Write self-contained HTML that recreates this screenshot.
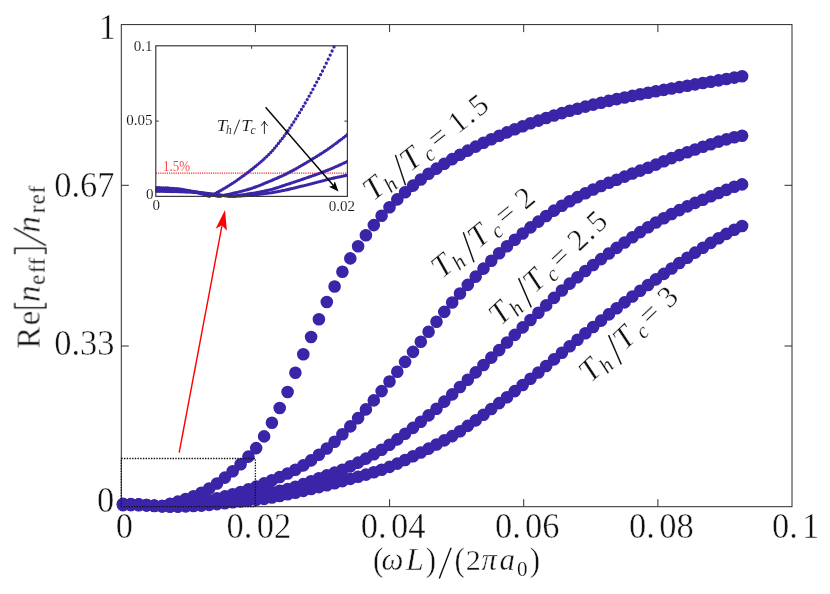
<!DOCTYPE html><html><head><meta charset="utf-8"><title>chart</title><style>
html,body{margin:0;padding:0;background:#fff;}svg{display:block;}text{font-family:"Liberation Serif",serif;fill:#111;stroke:#fff;paint-order:fill stroke;}
.i{font-style:italic}
</style></head><body>
<svg width="830" height="594" viewBox="0 0 830 594">
<rect width="830" height="594" fill="#fff"/>
<defs><filter id="nf" x="0" y="0" width="830" height="594" filterUnits="userSpaceOnUse"><feOffset dx="0" dy="0"/></filter></defs>
<g filter="url(#nf)">
<rect x="121.3" y="24.6" width="670.7" height="482.1" fill="none" stroke="#2b2b2b" stroke-width="1"/>
<path d="M255.4 506.7v-7.5M255.4 24.6v7.5M389.6 506.7v-7.5M389.6 24.6v7.5M523.7 506.7v-7.5M523.7 24.6v7.5M657.9 506.7v-7.5M657.9 24.6v7.5M121.3 346.0h7.5M792.0 346.0h-7.5M121.3 185.3h7.5M792.0 185.3h-7.5" stroke="#2b2b2b" stroke-width="1" fill="none"/>
<path d="M123.0 503.9h0M130.8 504.1h0M138.7 504.4h0M146.5 505.1h0M154.3 506.0h0M162.2 506.0h0M170.0 503.9h0M177.9 501.6h0M185.7 499.0h0M193.5 496.2h0M201.4 492.8h0M209.2 488.5h0M217.0 483.5h0M224.9 477.6h0M232.7 471.2h0M240.6 464.2h0M248.4 456.6h0M256.2 448.1h0M264.1 436.4h0M271.9 422.7h0M279.7 408.0h0M287.6 392.0h0M295.4 372.8h0M303.3 354.3h0M311.1 337.0h0M318.9 319.3h0M326.8 302.0h0M334.6 286.5h0M342.4 271.8h0M350.3 258.4h0M358.1 246.2h0M365.9 235.2h0M373.8 225.1h0M381.6 215.8h0M389.5 207.3h0M397.3 199.4h0M405.1 192.2h0M413.0 185.6h0M420.8 179.5h0M428.6 173.8h0M436.5 168.6h0M444.3 163.7h0M452.2 159.1h0M460.0 154.7h0M467.8 150.6h0M475.7 146.6h0M483.5 142.8h0M491.3 139.2h0M499.2 135.7h0M507.0 132.4h0M514.8 129.2h0M522.7 126.2h0M530.5 123.3h0M538.4 120.6h0M546.2 118.0h0M554.0 115.5h0M561.9 113.1h0M569.7 110.8h0M577.5 108.7h0M585.4 106.6h0M593.2 104.6h0M601.1 102.7h0M608.9 100.9h0M616.7 99.1h0M624.6 97.5h0M632.4 95.9h0M640.2 94.3h0M648.1 92.8h0M655.9 91.3h0M663.8 89.9h0M671.6 88.5h0M679.4 87.1h0M687.3 85.7h0M695.1 84.4h0M702.9 83.0h0M710.8 81.7h0M718.6 80.4h0M726.4 79.0h0M734.3 77.6h0M742.1 76.2h0" stroke="#3b24a8" stroke-width="12.6" stroke-linecap="round" fill="none"/>
<path d="M123.0 504.3h0M130.8 504.4h0M138.7 504.6h0M146.5 505.1h0M154.3 505.7h0M162.2 506.4h0M170.0 506.3h0M177.9 505.4h0M185.7 504.5h0M193.5 503.3h0M201.4 501.8h0M209.2 500.2h0M217.0 498.4h0M224.9 496.4h0M232.7 494.2h0M240.6 492.0h0M248.4 489.4h0M256.2 486.6h0M264.1 483.4h0M271.9 480.3h0M279.7 477.0h0M287.6 473.5h0M295.4 469.7h0M303.3 465.4h0M311.1 460.4h0M318.9 454.8h0M326.8 448.5h0M334.6 441.7h0M342.4 434.3h0M350.3 426.4h0M358.1 418.1h0M365.9 409.4h0M373.8 400.4h0M381.6 391.1h0M389.5 381.5h0M397.3 371.8h0M405.1 361.9h0M413.0 351.9h0M420.8 341.8h0M428.6 331.7h0M436.5 321.7h0M444.3 311.9h0M452.2 302.5h0M460.0 293.5h0M467.8 284.9h0M475.7 276.6h0M483.5 268.6h0M491.3 260.7h0M499.2 253.3h0M507.0 246.3h0M514.8 239.8h0M522.7 233.5h0M530.5 227.4h0M538.4 221.6h0M546.2 216.0h0M554.0 210.6h0M561.9 205.7h0M569.7 201.3h0M577.5 197.1h0M585.4 193.2h0M593.2 189.5h0M601.1 186.0h0M608.9 182.7h0M616.7 179.7h0M624.6 176.6h0M632.4 173.5h0M640.2 170.6h0M648.1 167.7h0M655.9 164.6h0M663.8 161.3h0M671.6 158.1h0M679.4 155.1h0M687.3 152.2h0M695.1 149.5h0M702.9 146.8h0M710.8 144.2h0M718.6 141.6h0M726.4 139.4h0M734.3 137.3h0M742.1 135.8h0" stroke="#3b24a8" stroke-width="12.6" stroke-linecap="round" fill="none"/>
<path d="M123.0 504.7h0M130.8 504.8h0M138.7 504.9h0M146.5 505.1h0M154.3 505.6h0M162.2 506.0h0M170.0 506.5h0M177.9 506.4h0M185.7 505.9h0M193.5 505.3h0M201.4 504.6h0M209.2 503.5h0M217.0 502.3h0M224.9 501.1h0M232.7 499.8h0M240.6 498.5h0M248.4 497.0h0M256.2 495.3h0M264.1 493.4h0M271.9 492.1h0M279.7 490.8h0M287.6 489.1h0M295.4 486.8h0M303.3 484.1h0M311.1 481.2h0M318.9 478.3h0M326.8 475.4h0M334.6 472.6h0M342.4 469.7h0M350.3 466.3h0M358.1 462.6h0M365.9 458.6h0M373.8 454.3h0M381.6 449.7h0M389.5 444.7h0M397.3 439.4h0M405.1 433.8h0M413.0 427.9h0M420.8 421.7h0M428.6 415.4h0M436.5 408.7h0M444.3 401.6h0M452.2 394.4h0M460.0 387.0h0M467.8 379.7h0M475.7 372.4h0M483.5 365.0h0M491.3 357.6h0M499.2 350.1h0M507.0 342.5h0M514.8 334.9h0M522.7 327.4h0M530.5 320.0h0M538.4 312.7h0M546.2 305.4h0M554.0 297.9h0M561.9 290.5h0M569.7 283.6h0M577.5 277.2h0M585.4 271.0h0M593.2 265.0h0M601.1 259.1h0M608.9 253.5h0M616.7 247.9h0M624.6 242.5h0M632.4 237.3h0M640.2 232.1h0M648.1 227.2h0M655.9 222.5h0M663.8 218.2h0M671.6 214.0h0M679.4 210.1h0M687.3 206.4h0M695.1 202.9h0M702.9 199.7h0M710.8 196.3h0M718.6 193.0h0M726.4 189.9h0M734.3 186.8h0M742.1 184.4h0" stroke="#3b24a8" stroke-width="12.6" stroke-linecap="round" fill="none"/>
<path d="M123.0 505.1h0M130.8 505.1h0M138.7 505.2h0M146.5 505.4h0M154.3 505.7h0M162.2 506.1h0M170.0 506.4h0M177.9 506.6h0M185.7 506.4h0M193.5 506.0h0M201.4 505.6h0M209.2 504.9h0M217.0 504.1h0M224.9 503.3h0M232.7 502.3h0M240.6 501.4h0M248.4 500.6h0M256.2 499.8h0M264.1 498.9h0M271.9 497.5h0M279.7 496.0h0M287.6 494.3h0M295.4 492.7h0M303.3 490.9h0M311.1 489.0h0M318.9 487.1h0M326.8 485.2h0M334.6 483.2h0M342.4 481.1h0M350.3 478.9h0M358.1 476.7h0M365.9 474.6h0M373.8 472.3h0M381.6 469.8h0M389.5 466.9h0M397.3 463.6h0M405.1 460.0h0M413.0 456.3h0M420.8 452.5h0M428.6 448.6h0M436.5 444.5h0M444.3 440.4h0M452.2 436.1h0M460.0 431.3h0M467.8 425.9h0M475.7 420.4h0M483.5 414.8h0M491.3 409.0h0M499.2 403.1h0M507.0 397.2h0M514.8 391.1h0M522.7 385.0h0M530.5 378.8h0M538.4 372.5h0M546.2 366.0h0M554.0 359.4h0M561.9 352.8h0M569.7 346.2h0M577.5 339.7h0M585.4 333.3h0M593.2 327.0h0M601.1 320.6h0M608.9 314.4h0M616.7 308.3h0M624.6 302.4h0M632.4 296.5h0M640.2 290.7h0M648.1 285.0h0M655.9 279.4h0M663.8 273.9h0M671.6 268.5h0M679.4 263.0h0M687.3 257.7h0M695.1 252.6h0M702.9 247.7h0M710.8 242.9h0M718.6 238.3h0M726.4 233.9h0M734.3 229.8h0M742.1 226.0h0" stroke="#3b24a8" stroke-width="12.6" stroke-linecap="round" fill="none"/>
<rect x="121.3" y="458.5" width="134.1" height="48.2" fill="none" stroke="#111" stroke-width="1.3" stroke-dasharray="1.4 1.3"/>
<path d="M179.2 452.5L222.0 225.5" stroke="#f00" stroke-width="1.4" fill="none"/>
<path d="M225 210.1L215.6 228.7L221.9 225.3L226.9 230.7Z" fill="#f00"/>
<text transform="translate(116.0 38.9) scale(1 1.05)" font-size="34.5" stroke-width="0.43" text-anchor="end">1</text>
<text transform="translate(114.6 196.8) scale(1 1.05)" font-size="34.5" stroke-width="0.43" text-anchor="end">0.67</text>
<text transform="translate(114.6 354.9) scale(1 1.05)" font-size="34.5" stroke-width="0.43" text-anchor="end">0.33</text>
<text transform="translate(114.2 511.8) scale(1 1.05)" font-size="34.5" stroke-width="0.43" text-anchor="end">0</text>
<text transform="translate(115.8 538.3) scale(1 1.05)" font-size="34.5" stroke-width="0.43">0</text>
<text transform="translate(226.6 538.3) scale(1 1.05)" font-size="34.5" stroke-width="0.43">0.<tspan dx="4.3">02</tspan></text>
<text transform="translate(360.8 538.3) scale(1 1.05)" font-size="34.5" stroke-width="0.43">0.<tspan dx="4.3">04</tspan></text>
<text transform="translate(494.9 538.3) scale(1 1.05)" font-size="34.5" stroke-width="0.43">0.<tspan dx="4.3">06</tspan></text>
<text transform="translate(629.1 538.3) scale(1 1.05)" font-size="34.5" stroke-width="0.43">0.<tspan dx="4.3">08</tspan></text>
<text transform="translate(771.9 538.3) scale(1 1.05)" font-size="34.5" stroke-width="0.43">0.<tspan dx="4.3">1</tspan></text>
<text transform="translate(378.2 571.2) scale(1 1.08)" font-size="31" stroke-width="0.39" text-anchor="middle">(</text>
<text x="392.4" y="570.2" font-size="31" stroke-width="0.39" text-anchor="middle" class="i">ω</text>
<text x="414.9" y="570.2" font-size="32" stroke-width="0.40" text-anchor="middle" class="i">L</text>
<text transform="translate(431.0 571.2) scale(1 1.08)" font-size="31" stroke-width="0.39" text-anchor="middle">)</text>
<path d="M439.3 578.5L451.1 547.8" stroke="#111" stroke-width="1.4" fill="none"/>
<text transform="translate(459.6 571.2) scale(1 1.08)" font-size="31" stroke-width="0.39" text-anchor="middle">(</text>
<text x="473.2" y="570.2" font-size="30" stroke-width="0.38" text-anchor="middle">2</text>
<text x="489.2" y="570.2" font-size="31" stroke-width="0.39" text-anchor="middle" class="i">π</text>
<text x="507.2" y="570.2" font-size="31" stroke-width="0.39" text-anchor="middle" class="i">a</text>
<text x="522.3" y="575.6" font-size="21" stroke-width="0.17" text-anchor="middle">0</text>
<text transform="translate(535.0 571.2) scale(1 1.08)" font-size="31" stroke-width="0.39" text-anchor="middle">)</text>
<g transform="translate(39.6 349.2) rotate(-90)">
<text x="11.6" y="0.0" font-size="33" stroke-width="0.41" text-anchor="middle">R</text>
<text x="31.1" y="0.0" font-size="33" stroke-width="0.41" text-anchor="middle">e</text>
<text x="55.5" y="0.0" font-size="33" stroke-width="0.41" text-anchor="middle" class="i">n</text>
<path d="M46.3 -24.8H41.4V6.3H46.3M95 -24.8H100.8V6.3H95" stroke="#111" stroke-width="1.4" fill="none"/>
<text x="69.4" y="4.7" font-size="23" stroke-width="0.18" text-anchor="middle">e</text>
<text x="79.8" y="4.7" font-size="23" stroke-width="0.18" text-anchor="middle">f</text>
<text x="87.6" y="4.7" font-size="23" stroke-width="0.18" text-anchor="middle">f</text>
<path d="M103.6 6.4L121.1 -25.6" stroke="#111" stroke-width="1.4" fill="none"/>
<text x="124.7" y="0.0" font-size="33" stroke-width="0.41" text-anchor="middle" class="i">n</text>
<text x="139.8" y="4.7" font-size="23" stroke-width="0.18" text-anchor="middle">r</text>
<text x="149.8" y="4.7" font-size="23" stroke-width="0.18" text-anchor="middle">e</text>
<text x="159.7" y="4.7" font-size="23" stroke-width="0.18" text-anchor="middle">f</text>
</g>
<g transform="translate(377.2 198.4) rotate(-38.4)">
<text x="3.5" y="0.0" font-size="32.0" stroke-width="0.40" text-anchor="middle" class="i">T</text>
<text x="18.9" y="4.6" font-size="21.5" stroke-width="0.17" text-anchor="middle" class="i">h</text>
<path d="M30.4 7.2L41.3 -22.8" stroke="#111" stroke-width="1.4" fill="none"/>
<text x="50.8" y="0.0" font-size="32.0" stroke-width="0.40" text-anchor="middle" class="i">T</text>
<text x="68.2" y="4.6" font-size="21.5" stroke-width="0.17" text-anchor="middle" class="i">c</text>
<text x="85.7" y="-0.5" font-size="30.5" stroke-width="0.38" text-anchor="middle">=</text>
<text x="110.5" y="0.0" font-size="30.5" stroke-width="0.38" text-anchor="middle">1</text>
<text x="123.1" y="0.0" font-size="30.5" stroke-width="0.38" text-anchor="middle">.</text>
<text x="137.3" y="0.0" font-size="30.5" stroke-width="0.38" text-anchor="middle">5</text>
</g>
<g transform="translate(446.0 276.1) rotate(-39.6)">
<text x="3.5" y="0.0" font-size="32.0" stroke-width="0.40" text-anchor="middle" class="i">T</text>
<text x="18.9" y="4.6" font-size="21.5" stroke-width="0.17" text-anchor="middle" class="i">h</text>
<path d="M30.4 7.2L41.3 -22.8" stroke="#111" stroke-width="1.4" fill="none"/>
<text x="50.8" y="0.0" font-size="32.0" stroke-width="0.40" text-anchor="middle" class="i">T</text>
<text x="68.2" y="4.6" font-size="21.5" stroke-width="0.17" text-anchor="middle" class="i">c</text>
<text x="85.7" y="-0.5" font-size="30.5" stroke-width="0.38" text-anchor="middle">=</text>
<text x="110.5" y="0.0" font-size="30.5" stroke-width="0.38" text-anchor="middle">2</text>
</g>
<g transform="translate(504.3 323.1) rotate(-43.5)">
<text x="3.5" y="0.0" font-size="32.0" stroke-width="0.40" text-anchor="middle" class="i">T</text>
<text x="18.9" y="4.6" font-size="21.5" stroke-width="0.17" text-anchor="middle" class="i">h</text>
<path d="M30.4 7.2L41.3 -22.8" stroke="#111" stroke-width="1.4" fill="none"/>
<text x="50.8" y="0.0" font-size="32.0" stroke-width="0.40" text-anchor="middle" class="i">T</text>
<text x="68.2" y="4.6" font-size="21.5" stroke-width="0.17" text-anchor="middle" class="i">c</text>
<text x="85.7" y="-0.5" font-size="30.5" stroke-width="0.38" text-anchor="middle">=</text>
<text x="110.5" y="0.0" font-size="30.5" stroke-width="0.38" text-anchor="middle">2</text>
<text x="123.1" y="0.0" font-size="30.5" stroke-width="0.38" text-anchor="middle">.</text>
<text x="137.3" y="0.0" font-size="30.5" stroke-width="0.38" text-anchor="middle">5</text>
</g>
<g transform="translate(594.3 380.1) rotate(-43.5)">
<text x="3.5" y="0.0" font-size="32.0" stroke-width="0.40" text-anchor="middle" class="i">T</text>
<text x="18.9" y="4.6" font-size="21.5" stroke-width="0.17" text-anchor="middle" class="i">h</text>
<path d="M30.4 7.2L41.3 -22.8" stroke="#111" stroke-width="1.4" fill="none"/>
<text x="50.8" y="0.0" font-size="32.0" stroke-width="0.40" text-anchor="middle" class="i">T</text>
<text x="68.2" y="4.6" font-size="21.5" stroke-width="0.17" text-anchor="middle" class="i">c</text>
<text x="85.7" y="-0.5" font-size="30.5" stroke-width="0.38" text-anchor="middle">=</text>
<text x="110.5" y="0.0" font-size="30.5" stroke-width="0.38" text-anchor="middle">3</text>
</g>
<rect x="155.8" y="45.8" width="191.6" height="150.6" fill="#fff" stroke="none"/>
<path d="M155.8 173.1H347.4" stroke="#ff2626" stroke-width="1.25" stroke-dasharray="1.2 1" fill="none"/>
<clipPath id="ic"><rect x="155.20000000000002" y="43.8" width="192.8" height="154.6"/></clipPath>
<g clip-path="url(#ic)">
<path d="M155.8 187.7h0M157.7 187.7h0M159.6 187.7h0M161.5 187.8h0M163.5 187.8h0M165.4 187.9h0M167.3 188.0h0M169.2 188.2h0M171.1 188.3h0M173.0 188.4h0M175.0 188.6h0M176.9 188.7h0M178.8 189.0h0M180.7 189.2h0M182.6 189.5h0M184.5 189.9h0M186.5 190.2h0M188.4 190.6h0M190.3 191.0h0M192.2 191.5h0M194.1 191.9h0M196.0 192.3h0M198.0 192.8h0M199.9 193.3h0M201.8 193.9h0M203.7 194.5h0M205.6 195.1h0M207.5 195.8h0M209.4 196.3h0M211.4 195.4h0M213.3 194.5h0M215.2 193.6h0M217.1 192.5h0M219.0 191.5h0M220.9 190.4h0M222.9 189.2h0M224.8 188.1h0M226.7 187.0h0M228.6 185.8h0M230.5 184.6h0M232.4 183.3h0M234.4 182.1h0M236.3 180.8h0M238.2 179.4h0M240.1 178.1h0M242.0 176.7h0M243.9 175.4h0M245.9 173.9h0M247.8 172.5h0M249.7 171.0h0M251.6 169.5h0M253.5 168.0h0M255.4 166.4h0M257.3 164.8h0M259.3 163.2h0M261.2 161.6h0M263.1 159.9h0M265.0 158.1h0M266.9 156.3h0M268.8 154.4h0M270.8 152.4h0M272.7 150.3h0M274.6 148.1h0M276.5 145.8h0M278.4 143.4h0M280.3 141.0h0M282.3 138.5h0M284.2 136.0h0M286.1 133.4h0M288.0 130.7h0M289.9 127.9h0M291.8 125.0h0M293.8 122.0h0M295.7 118.9h0M297.6 115.8h0M299.5 112.7h0M301.4 109.5h0M303.3 106.3h0M305.2 103.0h0M307.2 99.6h0M309.1 96.2h0M311.0 92.8h0M312.9 89.3h0M314.8 85.7h0M316.7 82.1h0M318.7 78.5h0M320.6 74.7h0M322.5 71.0h0M324.4 67.1h0M326.3 63.2h0M328.2 59.2h0M330.2 55.1h0M332.1 51.0h0M334.0 46.9h0" stroke="#3b24a8" stroke-width="3.3" stroke-linecap="round" fill="none"/>
<path d="M155.8 188.9h0M157.7 188.9h0M159.6 188.9h0M161.5 188.9h0M163.5 189.0h0M165.4 189.1h0M167.3 189.1h0M169.2 189.2h0M171.1 189.3h0M173.0 189.4h0M175.0 189.5h0M176.9 189.6h0M178.8 189.7h0M180.7 189.9h0M182.6 190.1h0M184.5 190.3h0M186.5 190.6h0M188.4 190.9h0M190.3 191.1h0M192.2 191.4h0M194.1 191.7h0M196.0 192.0h0M198.0 192.3h0M199.9 192.6h0M201.8 193.0h0M203.7 193.3h0M205.6 193.6h0M207.5 194.0h0M209.4 194.4h0M211.4 194.8h0M213.3 195.2h0M215.2 195.6h0M217.1 196.0h0M219.0 196.4h0M220.9 196.0h0M222.9 195.6h0M224.8 195.2h0M226.7 194.7h0M228.6 194.3h0M230.5 193.9h0M232.4 193.5h0M234.4 193.0h0M236.3 192.6h0M238.2 192.1h0M240.1 191.6h0M242.0 191.1h0M243.9 190.6h0M245.9 190.1h0M247.8 189.5h0M249.7 189.0h0M251.6 188.4h0M253.5 187.7h0M255.4 187.0h0M257.3 186.3h0M259.3 185.6h0M261.2 184.8h0M263.1 184.0h0M265.0 183.2h0M266.9 182.4h0M268.8 181.6h0M270.8 180.8h0M272.7 180.0h0M274.6 179.2h0M276.5 178.4h0M278.4 177.5h0M280.3 176.7h0M282.3 175.8h0M284.2 174.9h0M286.1 174.0h0M288.0 173.0h0M289.9 172.0h0M291.8 171.0h0M293.8 170.0h0M295.7 168.9h0M297.6 167.8h0M299.5 166.7h0M301.4 165.6h0M303.3 164.5h0M305.2 163.4h0M307.2 162.2h0M309.1 161.1h0M311.0 159.9h0M312.9 158.7h0M314.8 157.6h0M316.7 156.4h0M318.7 155.2h0M320.6 154.0h0M322.5 152.8h0M324.4 151.5h0M326.3 150.3h0M328.2 149.0h0M330.2 147.6h0M332.1 146.2h0M334.0 144.8h0M335.9 143.4h0M337.8 142.0h0M339.7 140.5h0M341.7 139.1h0M343.6 137.6h0M345.5 136.1h0M347.4 134.5h0" stroke="#3b24a8" stroke-width="3.3" stroke-linecap="round" fill="none"/>
<path d="M155.8 190.1h0M157.7 190.1h0M159.6 190.1h0M161.5 190.1h0M163.5 190.2h0M165.4 190.2h0M167.3 190.3h0M169.2 190.3h0M171.1 190.4h0M173.0 190.5h0M175.0 190.5h0M176.9 190.6h0M178.8 190.7h0M180.7 190.8h0M182.6 190.9h0M184.5 191.0h0M186.5 191.1h0M188.4 191.2h0M190.3 191.4h0M192.2 191.6h0M194.1 191.8h0M196.0 192.0h0M198.0 192.2h0M199.9 192.5h0M201.8 192.7h0M203.7 193.0h0M205.6 193.2h0M207.5 193.4h0M209.4 193.7h0M211.4 193.9h0M213.3 194.1h0M215.2 194.4h0M217.1 194.6h0M219.0 194.9h0M220.9 195.1h0M222.9 195.4h0M224.8 195.6h0M226.7 195.9h0M228.6 196.1h0M230.5 196.4h0M232.4 196.1h0M234.4 195.9h0M236.3 195.6h0M238.2 195.4h0M240.1 195.1h0M242.0 194.9h0M243.9 194.6h0M245.9 194.3h0M247.8 194.0h0M249.7 193.7h0M251.6 193.4h0M253.5 193.1h0M255.4 192.8h0M257.3 192.4h0M259.3 192.1h0M261.2 191.7h0M263.1 191.3h0M265.0 190.9h0M266.9 190.5h0M268.8 190.1h0M270.8 189.6h0M272.7 189.1h0M274.6 188.5h0M276.5 187.9h0M278.4 187.3h0M280.3 186.7h0M282.3 186.0h0M284.2 185.4h0M286.1 184.7h0M288.0 184.1h0M289.9 183.5h0M291.8 182.8h0M293.8 182.2h0M295.7 181.6h0M297.6 180.9h0M299.5 180.3h0M301.4 179.6h0M303.3 179.0h0M305.2 178.3h0M307.2 177.6h0M309.1 177.0h0M311.0 176.3h0M312.9 175.6h0M314.8 175.0h0M316.7 174.3h0M318.7 173.6h0M320.6 172.9h0M322.5 172.2h0M324.4 171.5h0M326.3 170.7h0M328.2 170.0h0M330.2 169.2h0M332.1 168.4h0M334.0 167.6h0M335.9 166.7h0M337.8 165.9h0M339.7 165.0h0M341.7 164.1h0M343.6 163.2h0M345.5 162.3h0M347.4 161.3h0" stroke="#3b24a8" stroke-width="3.3" stroke-linecap="round" fill="none"/>
<path d="M155.8 191.3h0M157.7 191.3h0M159.6 191.3h0M161.5 191.3h0M163.5 191.3h0M165.4 191.4h0M167.3 191.4h0M169.2 191.4h0M171.1 191.5h0M173.0 191.5h0M175.0 191.6h0M176.9 191.6h0M178.8 191.7h0M180.7 191.8h0M182.6 191.8h0M184.5 191.9h0M186.5 192.0h0M188.4 192.1h0M190.3 192.2h0M192.2 192.3h0M194.1 192.5h0M196.0 192.6h0M198.0 192.8h0M199.9 193.0h0M201.8 193.2h0M203.7 193.3h0M205.6 193.5h0M207.5 193.7h0M209.4 193.9h0M211.4 194.1h0M213.3 194.3h0M215.2 194.5h0M217.1 194.7h0M219.0 194.9h0M220.9 195.1h0M222.9 195.3h0M224.8 195.5h0M226.7 195.7h0M228.6 195.9h0M230.5 196.0h0M232.4 196.2h0M234.4 196.4h0M236.3 196.2h0M238.2 196.1h0M240.1 196.0h0M242.0 195.8h0M243.9 195.7h0M245.9 195.5h0M247.8 195.4h0M249.7 195.2h0M251.6 195.0h0M253.5 194.9h0M255.4 194.7h0M257.3 194.5h0M259.3 194.3h0M261.2 194.1h0M263.1 193.8h0M265.0 193.6h0M266.9 193.3h0M268.8 193.1h0M270.8 192.8h0M272.7 192.5h0M274.6 192.2h0M276.5 191.8h0M278.4 191.4h0M280.3 191.1h0M282.3 190.7h0M284.2 190.3h0M286.1 189.9h0M288.0 189.5h0M289.9 189.0h0M291.8 188.6h0M293.8 188.2h0M295.7 187.7h0M297.6 187.2h0M299.5 186.7h0M301.4 186.2h0M303.3 185.8h0M305.2 185.3h0M307.2 184.8h0M309.1 184.3h0M311.0 183.8h0M312.9 183.3h0M314.8 182.8h0M316.7 182.3h0M318.7 181.8h0M320.6 181.3h0M322.5 180.8h0M324.4 180.3h0M326.3 179.8h0M328.2 179.2h0M330.2 178.8h0M332.1 178.4h0M334.0 178.0h0M335.9 177.6h0M337.8 177.2h0M339.7 176.8h0M341.7 176.4h0M343.6 175.9h0M345.5 175.5h0M347.4 175.1h0" stroke="#3b24a8" stroke-width="3.3" stroke-linecap="round" fill="none"/>
</g>
<rect x="155.8" y="45.8" width="191.6" height="150.6" fill="none" stroke="#3a3a3a" stroke-width="1.2"/>
<path d="M251.6 196.4v-3M251.6 45.8v3M155.8 121.1h3M347.4 121.1h-3" stroke="#333" stroke-width="1" fill="none"/>
<text x="152.6" y="50.9" font-size="15" stroke-width="0.10" text-anchor="end">0.1</text>
<text x="152.6" y="125.3" font-size="15" stroke-width="0.10" text-anchor="end">0.05</text>
<text x="153.4" y="198.5" font-size="15" stroke-width="0.10" text-anchor="end">0</text>
<text x="152.6" y="210.4" font-size="15" stroke-width="0.10">0</text>
<text x="328.8" y="210.8" font-size="15" stroke-width="0.10">0.02</text>
<text x="163" y="170.8" font-size="15" stroke-width="0.10" style="fill:#ff3030" textLength="27" lengthAdjust="spacingAndGlyphs">1.5%</text>
<text transform="translate(221.8 131.0) scale(1 0.9)" font-size="18.5" stroke-width="0.13" text-anchor="middle" class="i">T</text>
<text x="228.8" y="133.5" font-size="11.5" stroke-width="0.08" text-anchor="middle" class="i">h</text>
<path d="M233.9 134.5L239.7 119.6" stroke="#111" stroke-width="0.9" fill="none"/>
<text transform="translate(246.4 131.0) scale(1 0.9)" font-size="18.5" stroke-width="0.13" text-anchor="middle" class="i">T</text>
<text x="253.0" y="133.5" font-size="11.5" stroke-width="0.08" text-anchor="middle" class="i">c</text>
<path d="M264.4 133.9V121.4M260.9 125.6Q263.6 124 264.4 121.2Q265.2 124 267.9 125.6" stroke="#111" stroke-width="0.9" fill="none"/>
<path d="M265.6 107.3L333.6 185.8" stroke="#000" stroke-width="1.4" fill="none"/>
<path d="M338.5 191.4L329 186.7L333.4 185.6L334.8 181.2Z" fill="#000"/>
</g>
</svg></body></html>
